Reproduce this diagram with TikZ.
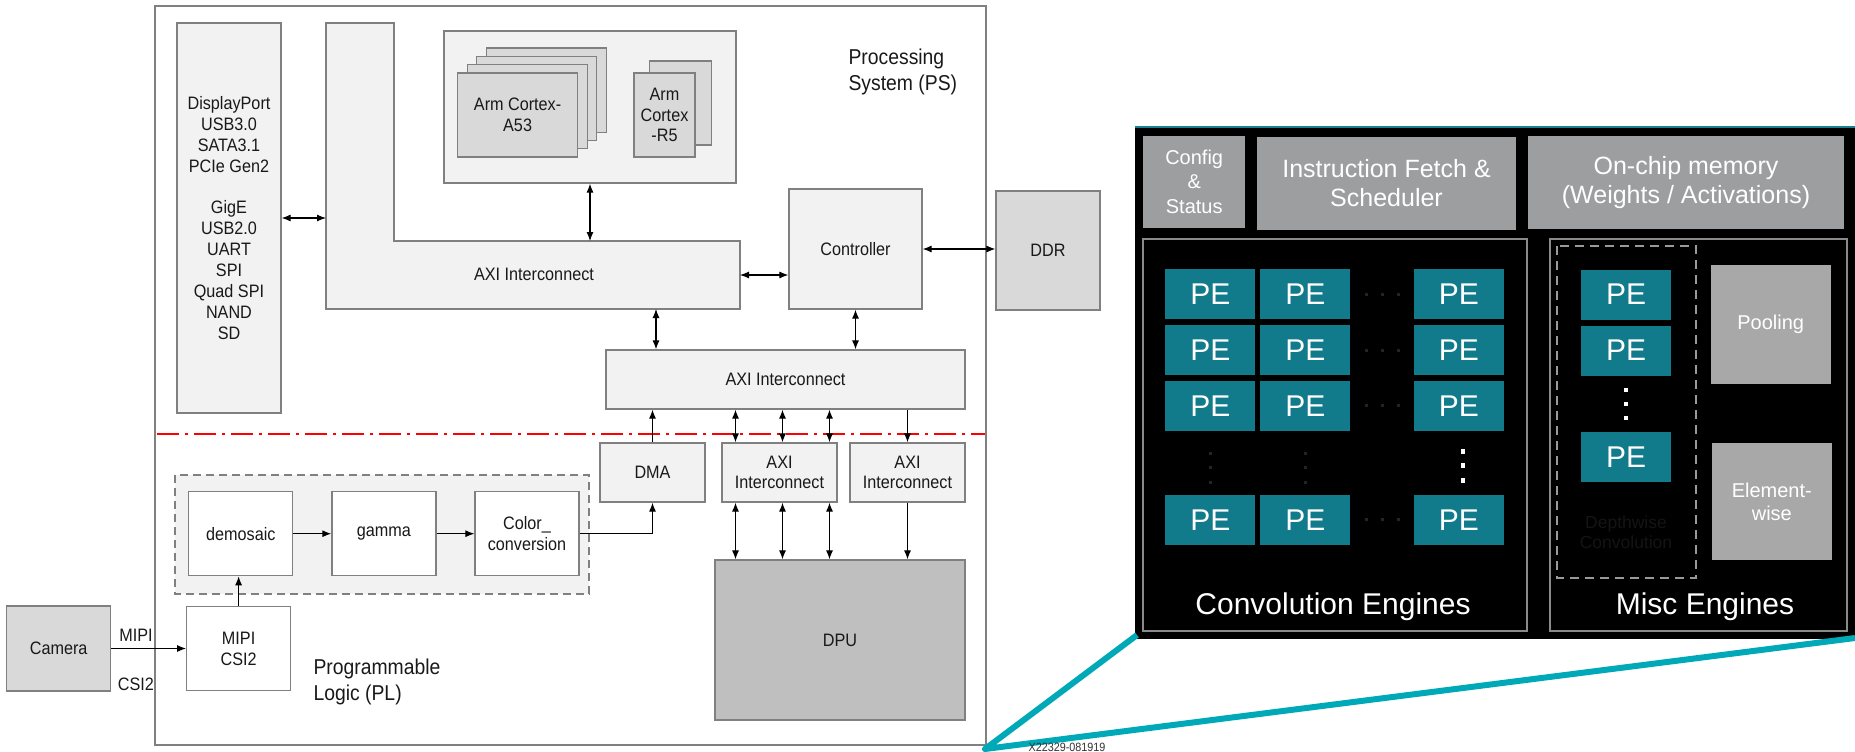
\documentclass[tikz,border=0pt]{standalone}
\usepackage{fontspec}
\usepackage{xcolor}
\setmainfont{Liberation Sans}
\newfontfamily\psfont{Liberation Sans}[FakeStretch=0.9]
\usetikzlibrary{arrows.meta}

\definecolor{boxgray}{HTML}{F2F2F2}
\definecolor{midgray}{HTML}{D9D9D9}
\definecolor{dpugray}{HTML}{BFBFBF}
\definecolor{edgegray}{HTML}{808080}
\definecolor{petile}{HTML}{117A8B}
\definecolor{topgray}{HTML}{9D9EA0}
\definecolor{sidegray}{HTML}{A8A8A8}
\definecolor{enginegray}{HTML}{8A8A8A}
\definecolor{zoomteal}{HTML}{00A9B7}
\definecolor{panelteal}{HTML}{1A7F8E}

\begin{document}
\begin{tikzpicture}[x=1pt, y=-1pt,
	box/.style={draw=edgegray, line width=1.2pt, fill=boxgray, align=center, inner sep=0pt,
		text=black!90, font=\psfont\fontsize{18}{21}\selectfont},
	darkbox/.style={box, fill=midgray},
	whitebox/.style={box, fill=white},
	pslabel/.style={anchor=west, align=left, text=black!90, font=\psfont\fontsize{21.5}{26}\selectfont},
	arrow/.style={line width=1.1pt, -{Latex[length=9pt, width=7pt]}},
	biarrow/.style={line width=1.1pt, {Latex[length=9pt, width=7pt]}-{Latex[length=9pt, width=7pt]}},
	pe/.style={fill=petile, minimum width=90pt, minimum height=50pt, inner sep=0pt,
		text=white, font=\fontsize{30}{30}\selectfont},
	greybox/.style={fill=topgray, align=center, inner sep=0pt, text=white,
		font=\fontsize{25}{29}\selectfont},
	sidebox/.style={greybox, fill=sidegray, font=\fontsize{20}{23}\selectfont},
	wdot/.style={fill=white, minimum size=4.5pt, inner sep=0pt},
	fdot/.style={fill=black!86, minimum size=3pt, inner sep=0pt}]

	\useasboundingbox (0,0) rectangle (1855,752);

	% SoC frame
	\draw[edgegray, line width=1.2pt] (155,6) rectangle (986,745);

	% Peripherals
	\node[box, minimum width=104pt, minimum height=390pt, font=\psfont\fontsize{18}{20.9}\selectfont] (io) at (229,218)
		{DisplayPort\\USB3.0\\SATA3.1\\PCIe Gen2\\[20.9pt]GigE\\USB2.0\\UART\\SPI\\Quad SPI\\NAND\\SD};

	% L-shaped AXI interconnect
	\draw[edgegray, line width=1.2pt, fill=boxgray]
		(326,23) -- (394,23) -- (394,241) -- (740,241) -- (740,309) -- (326,309) -- cycle;
	\node[text=black!90, font=\psfont\fontsize{18}{21}\selectfont] (axil) at (534,274) {AXI Interconnect};
	\coordinate (lwest) at (326,218);
	\coordinate (lnorth) at (590,241);
	\coordinate (least) at (740,275);
	\coordinate (lsouth) at (656,309);

	% CPU cluster
	\node[box, minimum width=292pt, minimum height=152pt] (cluster) at (590,107) {};
	\foreach \k in {3,2,1}
		\node[darkbox, minimum width=120pt, minimum height=84pt] (a53b\k) at (517.6+9.6*\k, 115-8.3*\k) {};
	\node[darkbox, minimum width=120pt, minimum height=84pt] (a53) at (517.6,115) {Arm Cortex-\\A53};
	\node[darkbox, minimum width=62pt, minimum height=84pt] (r5b) at (680.7,103) {};
	\node[darkbox, minimum width=61pt, minimum height=84pt, font=\psfont\fontsize{18}{20.5}\selectfont] (r5) at (664.5,115) {Arm\\Cortex\\-R5};
	\node[pslabel] (pslbl) at (845,72) {Processing\\System (PS)};

	% Memory path
	\node[box, minimum width=133pt, minimum height=120pt] (ctrl) at (855.5,249) {Controller};
	\node[darkbox, minimum width=104pt, minimum height=119pt] (ddr) at (1048,250.5) {DDR};
	\node[box, minimum width=359pt, minimum height=59pt] (axitop) at (785.5,379.5) {AXI Interconnect};

	% PS / PL boundary
	\draw[red, line width=2pt, dash pattern=on 22pt off 6pt on 3pt off 6pt] (157,434) -- (985,434);

	% PL side
	\node[box, minimum width=105pt, minimum height=59pt] (dma) at (652.5,472.5) {DMA};
	\node[box, minimum width=115pt, minimum height=59pt, font=\psfont\fontsize{18}{20}\selectfont] (axia) at (779.5,472.5) {AXI\\Interconnect};
	\node[box, minimum width=115pt, minimum height=59pt, font=\psfont\fontsize{18}{20}\selectfont] (axib) at (907.5,472.5) {AXI\\Interconnect};
	\node[box, fill=dpugray, minimum width=250pt, minimum height=160pt] (dpu) at (840,640) {DPU};

	% Image pipeline
	\draw[edgegray, line width=1.2pt, fill=boxgray, dash pattern=on 8pt off 5pt] (175,475) rectangle (589,594);
	\node[whitebox, minimum width=104pt, minimum height=84pt] (demosaic) at (240.8,533.7) {demosaic};
	\node[whitebox, minimum width=104pt, minimum height=84pt] (gamma) at (383.9,533.7) {gamma};
	\node[whitebox, minimum width=104pt, minimum height=84pt, font=\psfont\fontsize{18}{20.6}\selectfont] (colorconv) at (527,533.7) {Color\_\\conversion};
	\node[whitebox, minimum width=104pt, minimum height=84pt] (mipi) at (238.6,648.8) {MIPI\\CSI2};
	\node[darkbox, minimum width=104pt, minimum height=85pt] (camera) at (58.7,648.5) {Camera};
	\node[text=black!90, font=\psfont\fontsize{18}{21}\selectfont] (mipilbl) at (136,635) {MIPI};
	\node[text=black!90, font=\psfont\fontsize{18}{21}\selectfont] (csilbl) at (136,684) {CSI2};
	\node[pslabel] (pllbl) at (310,682) {Programmable\\Logic (PL)};

	% Connectors
	\draw[biarrow] (io.east |- lwest) -- (lwest);
	\draw[biarrow] (cluster.south) -- (lnorth);
	\draw[biarrow] (least) -- (least -| ctrl.west);
	\draw[biarrow] (ctrl.east) -- (ctrl.east -| ddr.west);
	\draw[biarrow] (lsouth) -- (lsouth |- axitop.north);
	\draw[biarrow] (ctrl.south) -- (ctrl.south |- axitop.north);
	\draw[arrow] (dma.north) -- (dma.north |- axitop.south);
	\foreach \dx in {-44,3,50} {
		\draw[biarrow] ([xshift=\dx pt]axia.north) -- ([xshift=\dx pt]axia.north |- axitop.south);
		\draw[biarrow] ([xshift=\dx pt]axia.south) -- ([xshift=\dx pt]axia.south |- dpu.north);
	}
	\draw[arrow] (axib.north |- axitop.south) -- (axib.north);
	\draw[arrow] (axib.south) -- (axib.south |- dpu.north);
	\draw[arrow] (colorconv.east) -| (dma.south);
	\draw[arrow] (demosaic) -- (gamma);
	\draw[arrow] (gamma) -- (colorconv);
	\draw[arrow] (mipi.north) -- (mipi.north |- demosaic.south);
	\draw[arrow] (camera.east) -- (camera.east -| mipi.west);

	% DPU detail panel
	\fill[black] (1135,126) rectangle (1855,639);
	\draw[panelteal, line width=2pt] (1135,127) -- (1855,127);
	\node[greybox, minimum width=101.6pt, minimum height=92pt, font=\fontsize{20}{24.5}\selectfont] (config) at (1194.2,181.7) {Config\\\&\\Status};
	\node[greybox, minimum width=259pt, minimum height=93pt] (instr) at (1386.5,183.5) {Instruction Fetch \&\\Scheduler};
	\node[greybox, minimum width=316pt, minimum height=93pt] (onchip) at (1686,182.5) {On-chip memory\\(Weights / Activations)};
	\draw[enginegray, line width=1.5pt] (1143,239) rectangle (1527,631);
	\draw[enginegray, line width=1.5pt] (1550,239) rectangle (1847,631);

	% PE array
	\foreach \r/\y in {1/294,2/350,3/405.7,4/519.7} {
		\foreach \c/\x in {1/1210.3,2/1305.3,3/1458.8}
			\node[pe] (pe\r\c) at (\x,\y) {PE};
		\foreach \i/\x in {1/1366,2/1382,3/1398}
			\node[fdot] (hd\r\i) at (\x,\y) {};
	}
	\foreach \y in {453,467,482} {
		\node[fdot] (vda\y) at (1210,\y) {};
		\node[fdot] (vdb\y) at (1305,\y) {};
		\node[wdot] (cdot\y) at (1463,\y-1.5) {};
	}
	\node[text=white, font=\fontsize{30}{30}\selectfont] (convlbl) at (1333,607) {Convolution Engines};

	% Misc engines
	\draw[black!40, line width=2pt, dash pattern=on 9pt off 6pt] (1557,246) rectangle (1696,578);
	\foreach \r/\y in {1/294.5,2/350.5,3/457}
		\node[pe] (mpe\r) at (1626,\y) {PE};
	\foreach \y in {390,404,418}
		\node[wdot] (mdot\y) at (1626,\y) {};
	\node[align=center, text=black!92, font=\fontsize{17.5}{19.5}\selectfont] (dwlbl) at (1626,532) {Depthwise\\Convolution};
	\node[sidebox, minimum width=120pt, minimum height=119pt] (pool) at (1770.7,324.5) {Pooling};
	\node[sidebox, minimum width=120pt, minimum height=117pt] (elem) at (1771.8,501.4) {Element-\\wise};
	\node[text=white, font=\fontsize{30}{30}\selectfont] (misclbl) at (1705,607) {Misc Engines};

	% Zoom lines
	\coordinate (zoomtip) at (985,749);
	\coordinate (panelsw) at (1137,635);
	\coordinate (panelse) at (1855,638);
	\draw[zoomteal, line width=6pt, line join=round] (panelsw) -- (zoomtip) -- (panelse);
	\node[text=black!80, font=\psfont\fontsize{12}{12}\selectfont] (figid) at (1067,747) {X22329-081919};
\end{tikzpicture}
\end{document}
